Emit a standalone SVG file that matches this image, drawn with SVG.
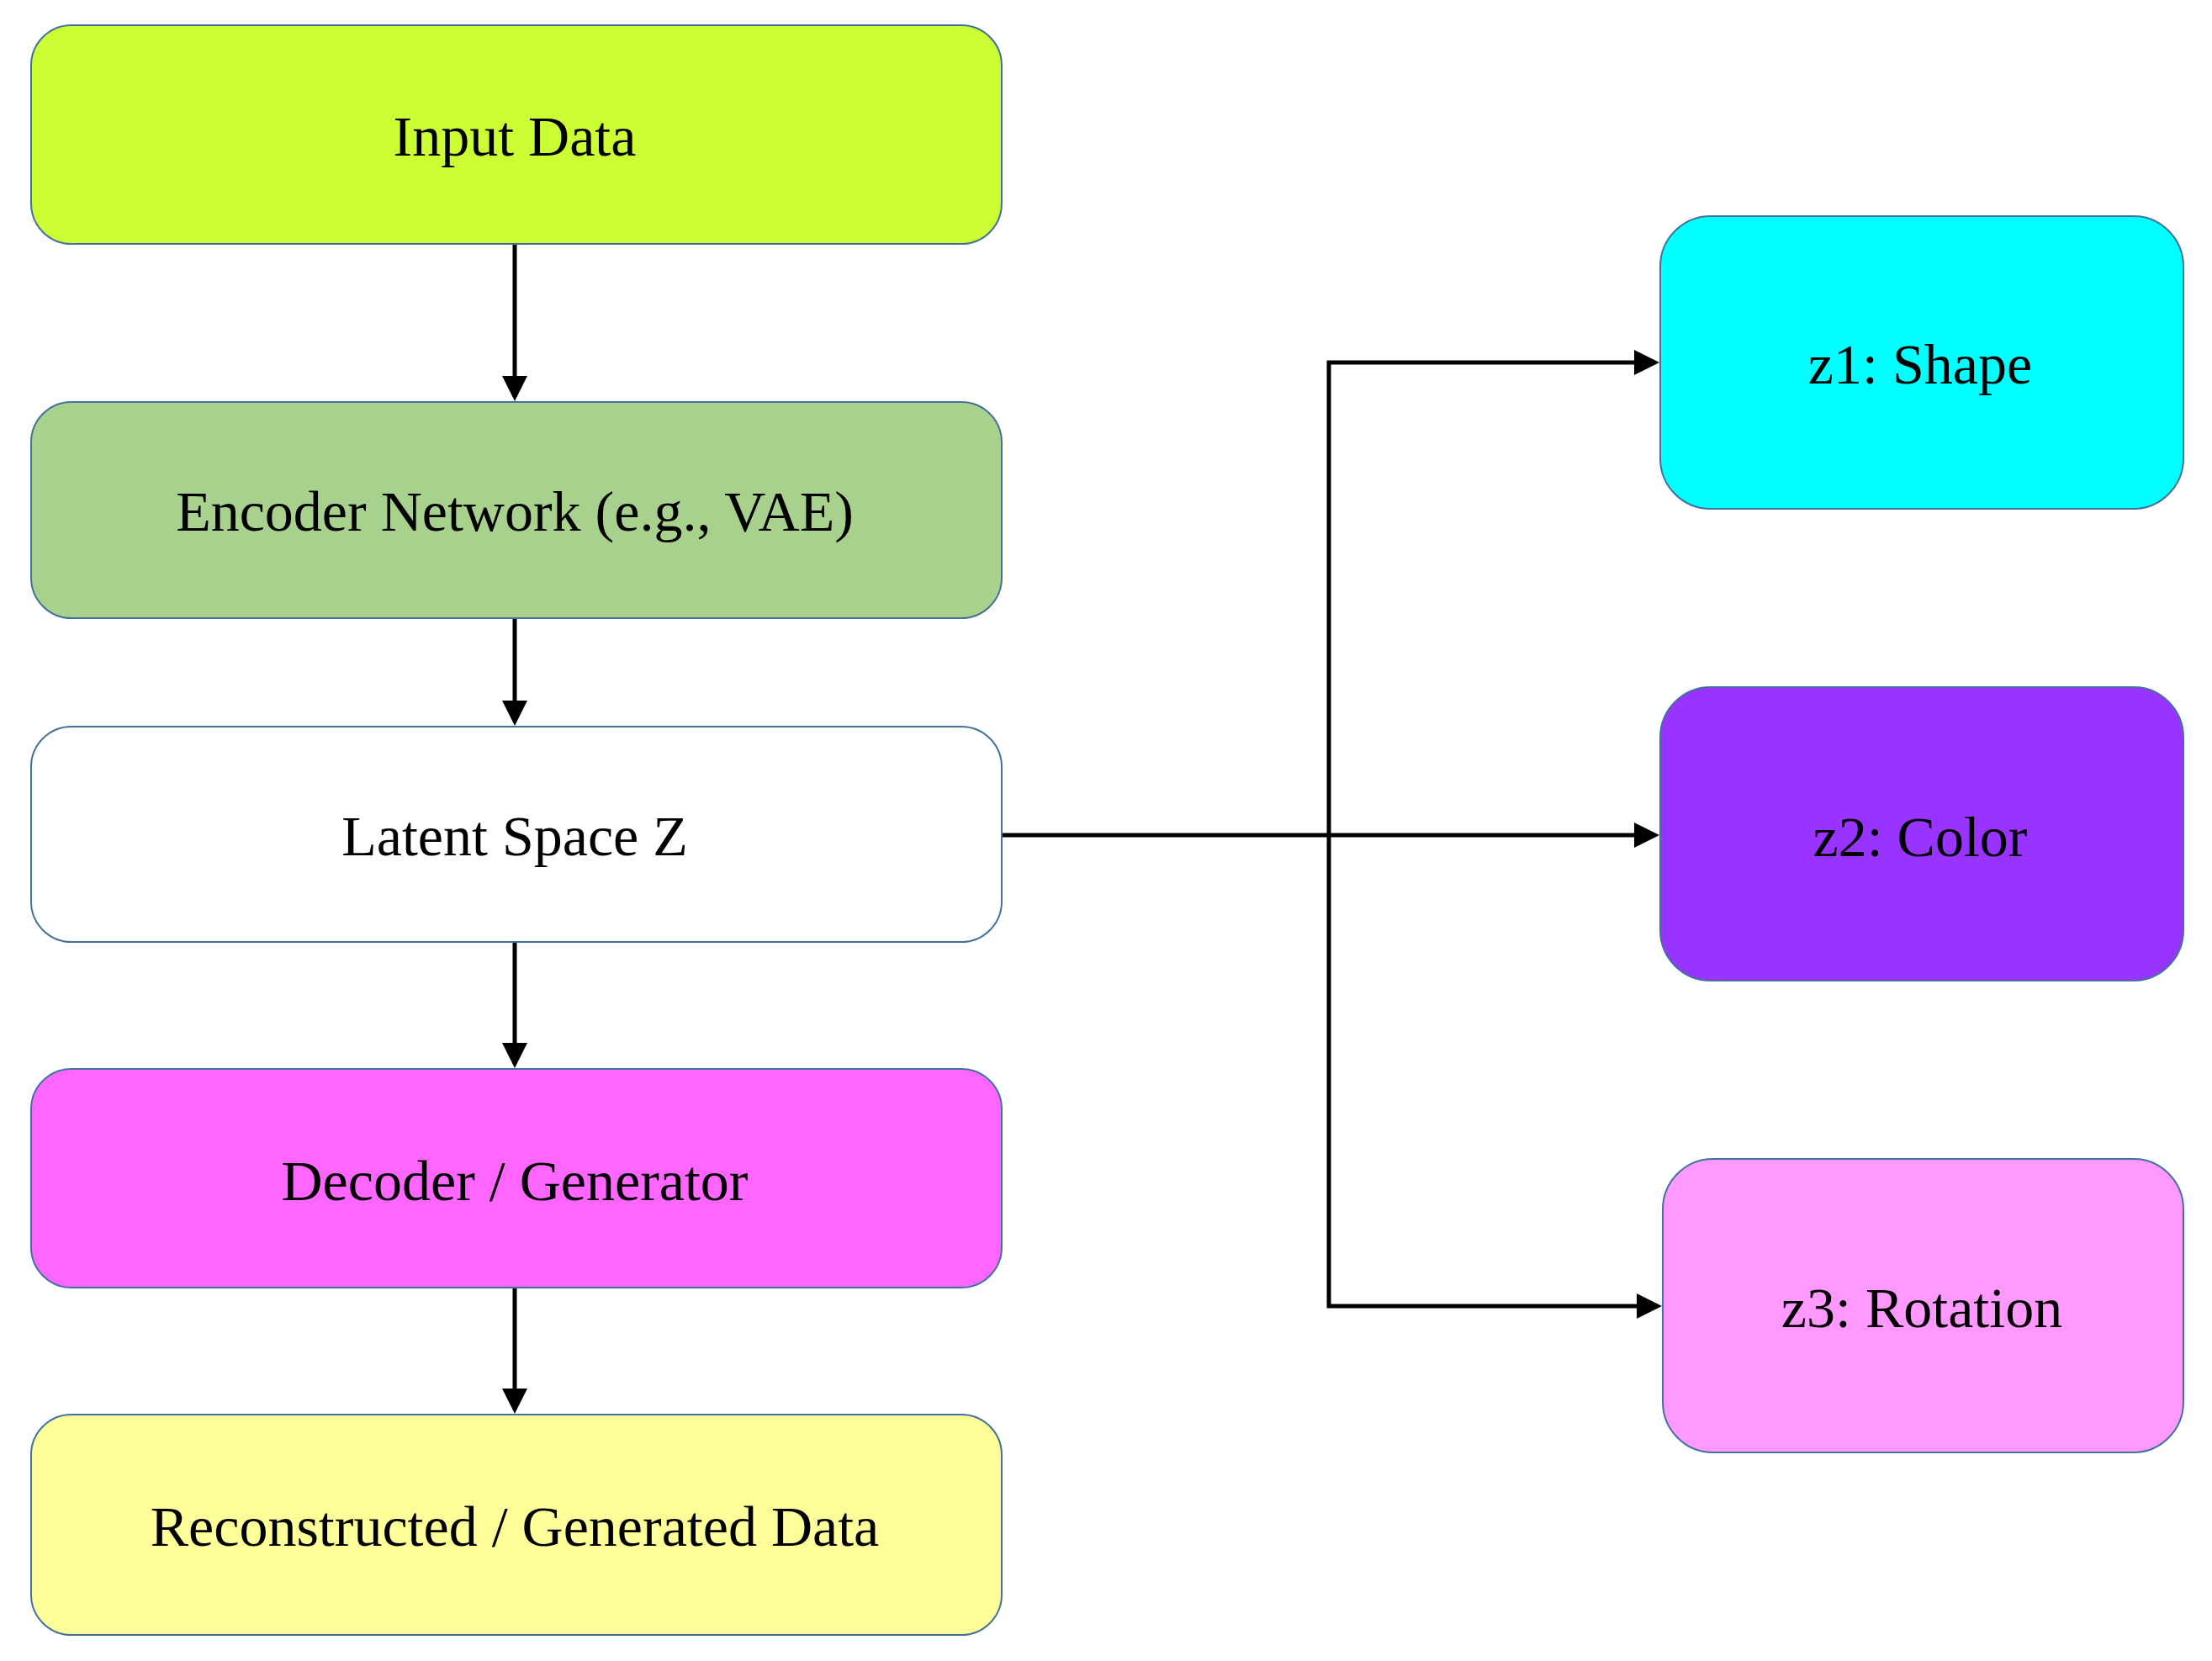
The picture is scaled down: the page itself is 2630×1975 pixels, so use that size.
<svg xmlns="http://www.w3.org/2000/svg" width="2630" height="1975" viewBox="0 0 2630 1975">
<style>
.n{stroke:#41719c;stroke-width:2}
.t{font-family:"Liberation Serif",serif;font-size:68px;fill:#000;text-anchor:middle;dominant-baseline:central}
.c{fill:none;stroke:#000;stroke-width:5}
</style>
<defs><marker id="a" markerWidth="6" markerHeight="6" refX="5" refY="3" orient="auto"><path d="M0,0L6,3L0,6z" fill="#000"/></marker></defs>
<rect width="2630" height="1975" fill="#fff"/>
<g id="connectors">
<path class="c" d="M612,290V472" marker-end="url(#a)"/>
<path class="c" d="M612,735V858" marker-end="url(#a)"/>
<path class="c" d="M612,1120V1265" marker-end="url(#a)"/>
<path class="c" d="M612,1531V1676" marker-end="url(#a)"/>
<path class="c" d="M1191,993H1968" marker-end="url(#a)"/>
<path class="c" d="M1580,993V431H1968" marker-end="url(#a)"/>
<path class="c" d="M1580,993V1553H1971" marker-end="url(#a)"/>
</g>
<g id="input"><rect class="n" x="37" y="30" width="1154" height="260" rx="48" fill="#ccff33"/><text class="t" x="612" y="162">Input Data</text></g>
<g id="encoder"><rect class="n" x="37" y="478" width="1154" height="257" rx="48" fill="#a9d18e"/><text class="t" x="612" y="608">Encoder Network (e.g., VAE)</text></g>
<g id="latent"><rect class="n" x="37" y="864" width="1154" height="256" rx="48" fill="#fff"/><text class="t" x="612" y="994">Latent Space Z</text></g>
<g id="decoder"><rect class="n" x="37" y="1271" width="1154" height="260" rx="48" fill="#ff66ff"/><text class="t" x="612" y="1404">Decoder / Generator</text></g>
<g id="recon"><rect class="n" x="37" y="1682" width="1154" height="262" rx="48" fill="#ffff99"/><text class="t" x="612" y="1815">Reconstructed / Generated Data</text></g>
<g id="z1"><rect class="n" x="1974" y="257" width="622" height="348" rx="60" fill="#00ffff"/><text class="t" x="2283" y="433">z1: Shape</text></g>
<g id="z2"><rect class="n" x="1974" y="817" width="622" height="349" rx="60" fill="#9933ff"/><text class="t" x="2283" y="995">z2: Color</text></g>
<g id="z3"><rect class="n" x="1977" y="1378" width="619" height="349" rx="60" fill="#ff99ff"/><text class="t" x="2285" y="1555">z3: Rotation</text></g>
</svg>
